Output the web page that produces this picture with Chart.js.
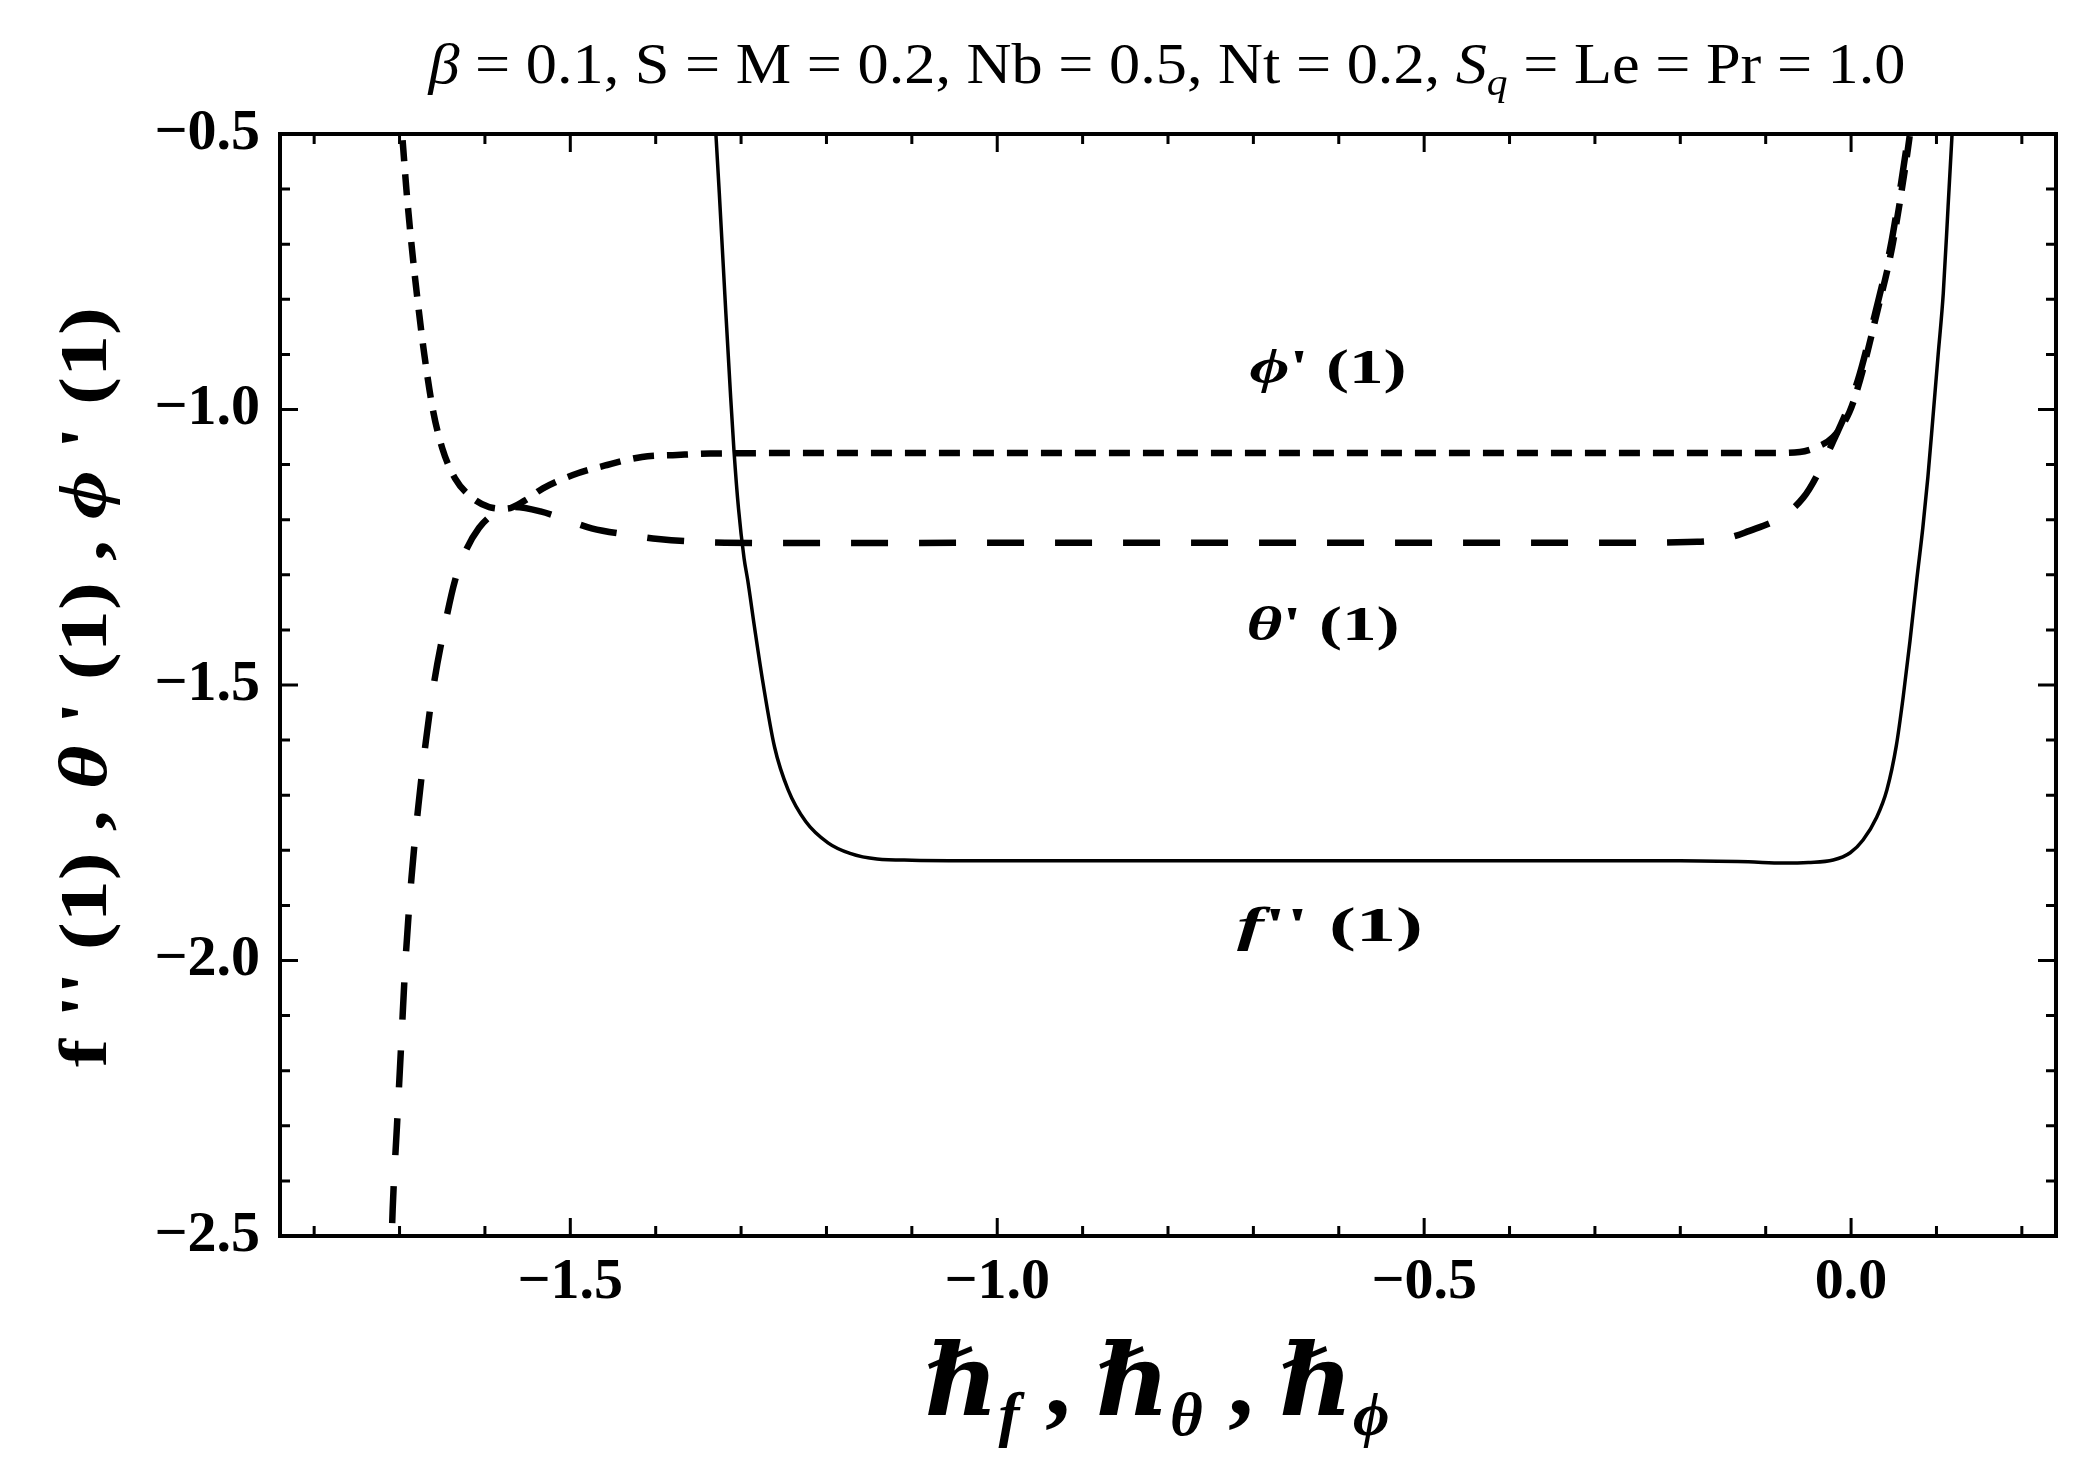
<!DOCTYPE html>
<html>
<head>
<meta charset="utf-8">
<script src="https://cdn.jsdelivr.net/npm/chart.js@4.4.1/dist/chart.umd.min.js"></script>
<style>
  html, body { margin: 0; padding: 0; background: #fff; }
  #wrap { width: 2091px; height: 1468px; }
</style>
</head>
<body>
<div id="wrap"><canvas id="chart" width="2091" height="1468"></canvas></div>
<script>
// tick labels
const xTicks = [-1.5, -1.0, -0.5, 0.0];
const yTicks = [-0.5, -1.0, -1.5, -2.0, -2.5];

// f''(1) vs h_f (solid)
const fX = [-1.332, -1.3295, -1.324, -1.318, -1.3125, -1.3083, -1.303, -1.2965, -1.2922, -1.2844, -1.2743, -1.2608, -1.245, -1.2243, -1.1982, -1.1724, -1.1408, -1.10, -1.0, -0.8, -0.6, -0.4, -0.2, -0.12, -0.08, -0.05, -0.021, -0.001, 0.014, 0.030, 0.042, 0.053, 0.061, 0.069, 0.077, 0.084, 0.090, 0.096, 0.102, 0.108, 0.1136, 0.1179, 0.120];
const fY = [-0.45, -0.50, -0.65, -0.82, -0.97, -1.075, -1.18, -1.27, -1.31, -1.3938, -1.4964, -1.6125, -1.6898, -1.7477, -1.7864, -1.8056, -1.8158, -1.818, -1.819, -1.819, -1.819, -1.819, -1.819, -1.821, -1.823, -1.822, -1.8176, -1.8044, -1.7813, -1.740, -1.690, -1.610, -1.522, -1.420, -1.308, -1.215, -1.122, -1.012, -0.900, -0.789, -0.632, -0.511, -0.45];

// theta'(1) vs h_theta (long dashes)
const thX = [-1.711, -1.708, -1.703, -1.698, -1.693, -1.686, -1.678, -1.669, -1.660, -1.648, -1.635, -1.622, -1.607, -1.590, -1.565, -1.535, -1.500, -1.475, -1.430, -1.397, -1.319, -1.237, -1.0, -0.6, -0.3, -0.18, -0.124, -0.056, -0.021, 0.008, 0.028, 0.046, 0.059, 0.066, 0.070];
const thY = [-2.60, -2.45, -2.30, -2.15, -2.00, -1.85, -1.72, -1.60, -1.50, -1.40, -1.31, -1.255, -1.215, -1.190, -1.177, -1.185, -1.203, -1.2156, -1.228, -1.235, -1.2417, -1.2423, -1.242, -1.242, -1.242, -1.240, -1.2232, -1.160, -1.058, -0.9465, -0.8265, -0.706, -0.585, -0.511, -0.46];

// phi'(1) vs h_phi (short dashes)
const phX = [-1.700, -1.697, -1.692, -1.686, -1.679, -1.671, -1.661, -1.650, -1.635, -1.615, -1.595, -1.575, -1.553, -1.532, -1.497, -1.457, -1.416, -1.375, -1.336, -1.2, -0.9, -0.6, -0.3, -0.1, -0.06, -0.04, -0.021, -0.002, 0.0105, 0.030, 0.048, 0.061, 0.068, 0.072];
const phY = [-0.45, -0.50, -0.60, -0.70, -0.80, -0.90, -1.00, -1.07, -1.125, -1.160, -1.177, -1.180, -1.165, -1.143, -1.119, -1.1007, -1.0862, -1.0826, -1.080, -1.079, -1.079, -1.079, -1.079, -1.079, -1.077, -1.068, -1.050, -1.005, -0.9465, -0.8265, -0.706, -0.585, -0.511, -0.46];

const SERIF = '"Liberation Serif", "DejaVu Serif", serif';
const PHI = '\u03D5';
const toPts = (xs, ys) => xs.map((x, i) => ({ x: x, y: ys[i] }));
const fmt = v => (v < 0 ? '\u2212' : '') + Math.abs(v).toFixed(1);

// draw a list of [text, font, dy] runs, squeezed/stretched to a target width
function drawRuns(ctx, runs, cx, cy, targetW, baseline, angle) {
  let w = 0;
  runs.forEach(r => { ctx.font = r[1]; w += ctx.measureText(r[0]).width; });
  const sx = targetW ? targetW / w : 1;
  ctx.save();
  ctx.translate(cx, cy);
  if (angle) ctx.rotate(angle);
  ctx.scale(sx, 1);
  ctx.fillStyle = '#000';
  ctx.textAlign = 'left';
  ctx.textBaseline = baseline || 'alphabetic';
  let x = -w / 2;
  runs.forEach(r => {
    ctx.font = r[1];
    ctx.fillText(r[0], x, r[2] || 0);
    x += ctx.measureText(r[0]).width;
  });
  ctx.restore();
}

const framePlugin = {
  id: 'frame',
  afterDraw(chart) {
    const ctx = chart.ctx;
    const { left, right, top, bottom } = chart.chartArea;
    const xs = chart.scales.x, ys = chart.scales.y;
    ctx.save();
    ctx.strokeStyle = '#000';
    ctx.lineWidth = 3;
    ctx.beginPath();
    for (let k = -18; k <= 2; k++) {
      const px = xs.getPixelForValue(k / 10);
      const len = k % 5 === 0 ? 18 : 10;
      ctx.moveTo(px, bottom); ctx.lineTo(px, bottom - len);
      ctx.moveTo(px, top); ctx.lineTo(px, top + len);
    }
    for (let k = -25; k <= -5; k++) {
      const py = ys.getPixelForValue(k / 10);
      const len = k % 5 === 0 ? 18 : 10;
      ctx.moveTo(left, py); ctx.lineTo(left + len, py);
      ctx.moveTo(right, py); ctx.lineTo(right - len, py);
    }
    ctx.stroke();
    ctx.lineWidth = 4;
    ctx.strokeRect(left, top, right - left, bottom - top);
    ctx.restore();

    // title
    const tR = '57px ' + SERIF, tI = 'italic 57px ' + SERIF;
    drawRuns(ctx, [
      ['\u03B2', tI], [' = 0.1, S = M = 0.2, Nb = 0.5, Nt = 0.2, ', tR],
      ['S', tI], ['q', 'italic 38px ' + SERIF, 12], [' = Le = Pr = 1.0', tR]
    ], 1167, 83, 1477);

    // x axis title
    const hB = 'italic bold 100px ' + SERIF, hS = 'italic bold 62px ' + SERIF;
    drawRuns(ctx, [
      ['\u210F', hB], ['f', hS, 20], [' , ', 'bold 100px ' + SERIF],
      ['\u210F', hB], ['\u03B8', hS, 20], [' , ', 'bold 100px ' + SERIF],
      ['\u210F', hB], [PHI, hS, 20]
    ], 1157, 1415, 465);

    // y axis title
    const yB = 'bold 68px ' + SERIF, yI = 'italic bold 68px ' + SERIF;
    drawRuns(ctx, [
      ['f', yB], [" '' (1) , ", yB], ['\u03B8', yI], [" ' (1) , ", yB], [PHI, yI], [" ' (1)", yB]
    ], 88, 687, 760, 'middle', -Math.PI / 2);

    // curve labels
    const aB = 'bold 48px ' + SERIF, aI = 'italic bold 48px ' + SERIF;
    drawRuns(ctx, [[PHI, aI], ["' (1)", aB]], 1328, 383, 157);
    drawRuns(ctx, [['\u03B8', aI], ["' (1)", aB]], 1323, 640, 153);
    drawRuns(ctx, [['f', aI], ["'' (1)", aB]], 1330, 941, 186);
  }
};

const tickFont = { family: SERIF, size: 58, weight: 'bold' };

new Chart(document.getElementById('chart'), {
  type: 'line',
  data: {
    datasets: [
      { label: "f''(1)", data: toPts(fX, fY), borderColor: '#000', borderWidth: 3.5,
        pointRadius: 0, cubicInterpolationMode: 'monotone', clip: 0, fill: false },
      { label: "\u03B8'(1)", data: toPts(thX, thY), borderColor: '#000', borderWidth: 6.5,
        borderDash: [37, 31], pointRadius: 0, cubicInterpolationMode: 'monotone', clip: 0, fill: false },
      { label: PHI + "'(1)", data: toPts(phX, phY), borderColor: '#000', borderWidth: 6.5,
        borderDash: [21, 13], pointRadius: 0, cubicInterpolationMode: 'monotone', clip: 0, fill: false }
    ]
  },
  options: {
    responsive: false,
    animation: false,
    devicePixelRatio: 1,
    layout: { padding: { left: 0, right: 35, top: 134, bottom: 0 } },
    plugins: { legend: { display: false }, tooltip: { enabled: false }, title: { display: false } },
    scales: {
      x: {
        type: 'linear', min: -1.84, max: 0.24,
        grid: { display: false, drawTicks: false }, border: { display: false },
        afterBuildTicks: s => { s.ticks = xTicks.map(v => ({ value: v })); },
        afterFit: s => { s.height = 232; },
        ticks: { padding: 12, font: tickFont, color: '#000', callback: fmt, maxRotation: 0, autoSkip: false }
      },
      y: {
        type: 'linear', min: -2.5, max: -0.5,
        grid: { display: false, drawTicks: false }, border: { display: false },
        afterBuildTicks: s => { s.ticks = yTicks.map(v => ({ value: v })); },
        afterFit: s => { s.width = 280; },
        ticks: { padding: 20, font: tickFont, color: '#000', callback: fmt, autoSkip: false }
      }
    }
  },
  plugins: [framePlugin]
});
</script>
</body>
</html>
